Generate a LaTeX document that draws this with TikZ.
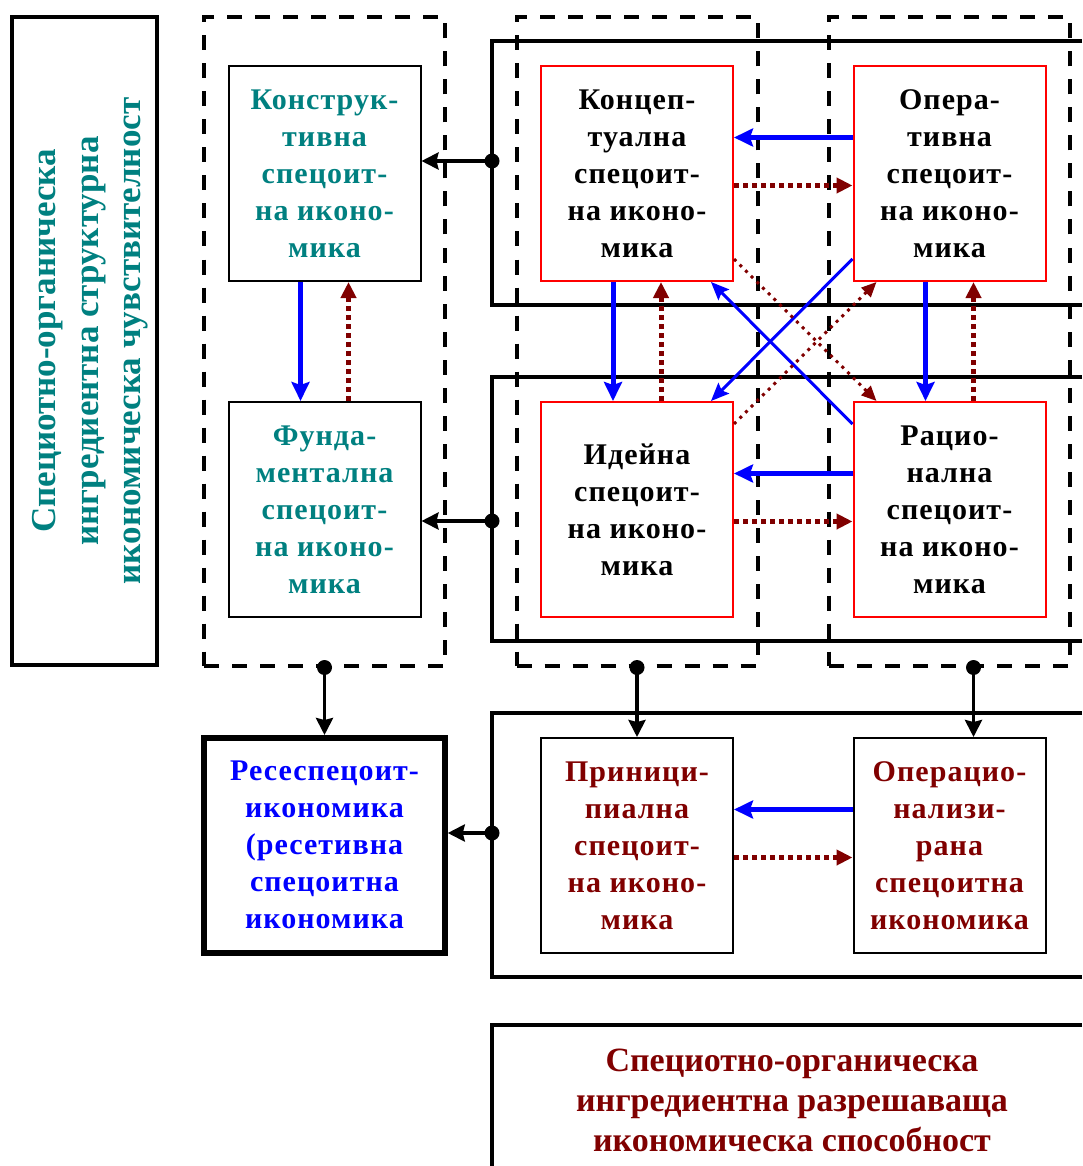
\documentclass[tikz,border=0pt]{standalone}
\usepackage{fontspec}
\setmainfont{Liberation Serif}
\newfontfamily\spacedfont[LetterSpace=3.5]{Liberation Serif}
\usepackage{xcolor}
\usepackage{tikz}
\usetikzlibrary{
  arrows.meta,
  fit,
  positioning
}
\definecolor{tealtext}{RGB}{0,128,128}
\definecolor{darkred}{RGB}{128,0,0}
\newcommand\boxfont{\spacedfont\bfseries\fontsize{30}{37}\selectfont}
\newcommand\bigfont{\bfseries\fontsize{34}{40}\selectfont}
\newcommand\sidefont{\bfseries\fontsize{35}{42.5}\selectfont}

\begin{document}
\begin{tikzpicture}[x=1pt, y=-1pt, node distance=119pt and 118.5pt,
  box/.style={draw, line width=2pt, minimum width=192pt, minimum height=215pt, inner sep=0pt, align=center, font=\boxfont},
  redbox/.style={box, draw=red},
  group/.style={draw, line width=4pt, dash pattern=on 15pt off 13pt, inner xsep=23.5pt, inner ysep=47.5pt},
  frame/.style={line width=3.5pt},
  blueflow/.style={blue, line width=5pt, -{Stealth[length=19pt, width=18pt, inset=3pt]}},
  redflow/.style={darkred, line width=5pt, dash pattern=on 5pt off 4pt, -{Triangle[length=16pt, width=15pt]}},
  thinblue/.style={blue, line width=3pt, -{Stealth[length=18pt, width=15pt, inset=3pt]}},
  thinred/.style={darkred, line width=3pt, dash pattern=on 3pt off 5pt, -{Triangle[length=15pt, width=13pt]}},
  link/.style={line width=3.5pt, -{Stealth[length=17pt, width=17pt, inset=2pt]}}]
  \useasboundingbox (0,0) rectangle (1082,1166);

  \node [draw, line width=4pt, minimum width=145pt, minimum height=648pt] (sense) at (84.5,341) {};
  \node [rotate=90, text=tealtext, font=\sidefont, align=center] (senselabel) at ([xshift=6pt]sense.center) {Специотно-органическа \\ ингредиентна структурна \\ икономическа чувствителност};

  \node [box, text=tealtext] (konstruk) at (324.5,173.5) {Конструк-\\тивна\\спецоит-\\на иконо-\\мика};
  \node [box, text=tealtext, below=of konstruk] (funda) {Фунда-\\ментална\\спецоит-\\на иконо-\\мика};
  \node [redbox, right=of konstruk] (koncep) {Концеп-\\туална\\спецоит-\\на иконо-\\мика};
  \node [redbox, right=of koncep] (opera) {Опера-\\тивна\\спецоит-\\на иконо-\\мика};
  \node [redbox, below=of koncep] (ideina) {Идейна\\спецоит-\\на иконо-\\мика};
  \node [redbox, below=of opera] (racio) {Рацио-\\нална\\спецоит-\\на иконо-\\мика};
  \node [box, line width=5.5pt, minimum width=241pt, text=blue, below=117pt of funda] (resesp) {Ресеспецоит-\\икономика\\(ресетивна\\спецоитна\\икономика};
  \node [box, text=darkred, below=of ideina] (princ) {Приници-\\пиална\\спецоит-\\на иконо-\\мика};
  \node [box, text=darkred, below=of racio] (operacio) {Операцио-\\нализи-\\рана\\спецоитна\\икономика};

  \node [group, fit=(konstruk)(funda)] (colA) {};
  \node [group, fit=(koncep)(ideina)] (colB) {};
  \node [group, fit=(opera)(racio)] (colC) {};

  \draw [frame] (1082,41) -| (492,305) -- (1082,305);
  \draw [frame] (1082,377) -| (492,641) -- (1082,641);
  \draw [frame] (1082,713) -| (492,977) -- (1082,977);
  \draw [frame] (1082,1025) -| (492,1166);
  \node [text=darkred, font=\bigfont, align=center] (ability) at (792,1100) {Специотно-органическа \\ ингредиентна разрешаваща \\ икономическа способност};

  \coordinate (d1) at (492,161);
  \coordinate (d2) at (492,521);
  \coordinate (d3) at (492,833);
  \coordinate (d4) at (colA.south);
  \coordinate (d5) at (colB.south);
  \coordinate (d6) at ([xshift=24pt]colC.south);
  \draw [link] (d1) -- (konstruk.east |- d1);
  \draw [link] (d2) -- (funda.east |- d2);
  \draw [link] (d3) -- (resesp.east |- d3);
  \draw [link] (d4) -- (resesp.north);
  \draw [link] (d5) -- (princ.north);
  \draw [link] (d6) -- (operacio.north -| d6);
  \foreach \d in {d1,d2,d3,d4,d5,d6}
    \fill (\d) circle (7.5pt);

  \draw [blueflow] ([xshift=-24pt]konstruk.south) -- ([xshift=-24pt]funda.north);
  \draw [redflow] ([xshift=24pt]funda.north) -- ([xshift=24pt]konstruk.south);
  \draw [blueflow] ([xshift=-24pt]koncep.south) -- ([xshift=-24pt]ideina.north);
  \draw [redflow] ([xshift=24pt]ideina.north) -- ([xshift=24pt]koncep.south);
  \draw [blueflow] ([xshift=-24pt]opera.south) -- ([xshift=-24pt]racio.north);
  \draw [redflow] ([xshift=24pt]racio.north) -- ([xshift=24pt]opera.south);
  \draw [blueflow] ([yshift=36pt]opera.west) -- ([yshift=36pt]koncep.east);
  \draw [redflow] ([yshift=-12pt]koncep.east) -- ([yshift=-12pt]opera.west);
  \draw [blueflow] ([yshift=36pt]racio.west) -- ([yshift=36pt]ideina.east);
  \draw [redflow] ([yshift=-12pt]ideina.east) -- ([yshift=-12pt]racio.west);
  \draw [blueflow] ([yshift=36pt]operacio.west) -- ([yshift=36pt]princ.east);
  \draw [redflow] ([yshift=-12pt]princ.east) -- ([yshift=-12pt]operacio.west);

  \draw [thinblue] ([yshift=23pt]opera.south west) -- ([xshift=-23pt]ideina.north east);
  \draw [thinblue] ([yshift=-23pt]racio.north west) -- ([xshift=-23pt]koncep.south east);
  \draw [thinred] ([yshift=23pt]koncep.south east) -- ([xshift=24pt]racio.north west);
  \draw [thinred] ([yshift=-23pt]ideina.north east) -- ([xshift=24pt]opera.south west);
\end{tikzpicture}
\end{document}
